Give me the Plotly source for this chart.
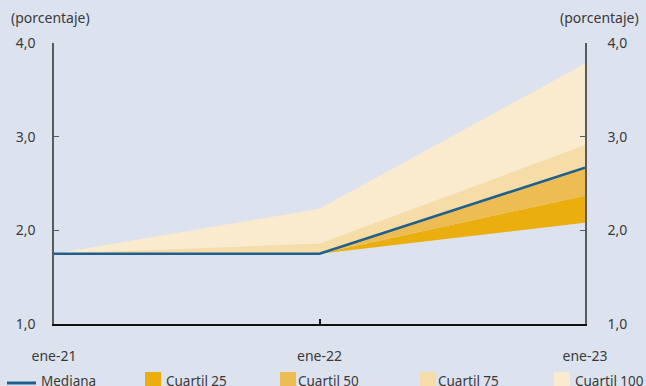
import plotly.graph_objects as go

# Fechas del horizonte de expectativas
fechas = ["ene-21", "ene-22", "ene-23"]
x_pos = [0, 1, 2]

# Expectativas (porcentaje)
mediana = [1.75, 1.75, 2.67]
cuartil_min = [1.75, 1.75, 2.08]
cuartil_25 = [1.75, 1.75, 2.37]
cuartil_75 = [1.75, 1.86, 2.91]
cuartil_100 = [1.75, 2.23, 3.78]

y_ticks = [1, 2, 3, 4]
y_labels = ["1,0", "2,0", "3,0", "4,0"]

serie_nombres = ["Mediana", "Cuartil 25", "Cuartil 50", "Cuartil 75", "Cuartil 100"]

col_q25 = "#EAAF0F"
col_q50 = "#EDBD53"
col_q75 = "#F6DCA6"
col_q100 = "#FAEBCF"
col_med = "#1F5F8E"
bg = "#DCE3EF"
txt = "#3A3A3A"

# Área de trazado en píxeles (para ubicar la leyenda inferior)
W, H = 646, 386
ML, MR, MT, MB = 54, 61, 43, 62
PW, PH = W - ML - MR, H - MT - MB


def px_x(px):
    return (px - ML) / PW


def px_y(py):
    return (H - MB - py) / PH


fig = go.Figure()

# Bandas apiladas entre cuartiles
fig.add_trace(go.Scatter(x=x_pos, y=cuartil_min, mode="lines", line=dict(width=0),
                         showlegend=False, hoverinfo="skip"))
bands = [(cuartil_25, col_q25), (mediana, col_q50), (cuartil_75, col_q75), (cuartil_100, col_q100)]
for vals, col in bands:
    fig.add_trace(go.Scatter(x=x_pos, y=vals, mode="lines", line=dict(width=0),
                             fill="tonexty", fillcolor=col, showlegend=False, hoverinfo="skip"))

# Mediana
fig.add_trace(go.Scatter(x=x_pos, y=mediana, mode="lines", name="Mediana",
                         line=dict(color=col_med, width=2.5), showlegend=False))

# Eje derecho espejo
fig.add_trace(go.Scatter(x=[None], y=[None], yaxis="y2", showlegend=False))

# Leyenda inferior: símbolo y texto de cada serie
shapes = [dict(type="line", xref="paper", yref="paper", x0=px_x(7), x1=px_x(36),
               y0=px_y(383), y1=px_y(383), line=dict(color=col_med, width=3))]
sq_left = [145, 280, 420, 554]
for x0, col in zip(sq_left, [col_q25, col_q50, col_q75, col_q100]):
    shapes.append(dict(type="rect", xref="paper", yref="paper", x0=px_x(x0), x1=px_x(x0 + 16),
                       y0=px_y(372), y1=px_y(392), line=dict(width=0), fillcolor=col))

text_left = [41, 166, 298, 438, 575]
annotations = [
    dict(text="(porcentaje)", xref="paper", yref="paper", x=-0.0075, y=1.0925,
         xanchor="center", yanchor="middle", showarrow=False),
    dict(text="(porcentaje)", xref="paper", yref="paper", x=1.028, y=1.0925,
         xanchor="center", yanchor="middle", showarrow=False),
]
for name, x0 in zip(serie_nombres, text_left):
    annotations.append(dict(text=name, xref="paper", yref="paper", x=px_x(x0 - 2), y=px_y(381),
                            xanchor="left", yanchor="middle", showarrow=False,
                            font=dict(size=13.5)))

fig.update_layout(
    width=W, height=H,
    margin=dict(l=ML, r=MR, t=MT, b=MB, autoexpand=False),
    paper_bgcolor=bg, plot_bgcolor=bg,
    font=dict(family="Noto Sans", size=14, color=txt),
    showlegend=False,
    xaxis=dict(range=[0, 2], tickvals=x_pos, ticktext=fechas, showgrid=False, zeroline=False,
               showline=True, linecolor="#111111", linewidth=1.5,
               ticks="inside", ticklen=5, tickcolor="#111111", tickwidth=1.5,
               ticklabelstandoff=18),
    yaxis=dict(range=[1, 4], tickvals=y_ticks, ticktext=y_labels, showgrid=False, zeroline=False,
               showline=True, linecolor="#5A5A5A", linewidth=1.5,
               ticks="inside", ticklen=5, tickcolor="#5A5A5A", ticklabelstandoff=14),
    yaxis2=dict(range=[1, 4], tickvals=y_ticks, ticktext=y_labels, overlaying="y", side="right",
                showgrid=False, zeroline=False, showline=True, linecolor="#5A5A5A", linewidth=1.5,
                ticks="inside", ticklen=5, tickcolor="#5A5A5A", ticklabelstandoff=18),
    shapes=shapes,
    annotations=annotations,
)

fig.write_html("out.html")
